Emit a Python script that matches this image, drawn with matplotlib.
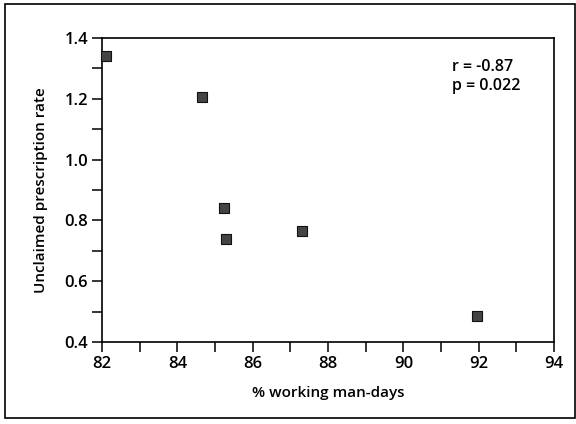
import matplotlib.pyplot as plt
from matplotlib.patches import Rectangle
from matplotlib.ticker import MultipleLocator

# data
working_days = [82.1, 84.65, 85.25, 85.3, 87.3, 91.95]
unclaimed_rate = [1.34, 1.205, 0.84, 0.74, 0.765, 0.487]
x_ticks = [82, 84, 86, 88, 90, 92, 94]
y_ticks = [0.4, 0.6, 0.8, 1.0, 1.2, 1.4]

plt.rcParams['font.family'] = ['Open Sans', 'DejaVu Sans']
plt.rcParams['font.weight'] = 'semibold'
plt.rcParams['axes.labelweight'] = 'semibold'

fig = plt.figure(figsize=(5.76, 4.24), dpi=100)
ax = fig.add_axes([102 / 576, 1 - 342 / 424, 452 / 576, 304 / 424])

ax.scatter(working_days, unclaimed_rate, marker='s', s=50, color='#444444',
           edgecolor='#111111', linewidth=0.8, zorder=3, clip_on=False)

ax.set_xlim(82, 94)
ax.set_ylim(0.4, 1.4)
ax.set_xticks(x_ticks)
ax.set_yticks(y_ticks)
ax.set_xticklabels([str(t) for t in x_ticks])
ax.set_yticklabels(['%.1f' % t for t in y_ticks])
ax.xaxis.set_minor_locator(MultipleLocator(1))
ax.yaxis.set_minor_locator(MultipleLocator(0.1))
ax.tick_params(which='major', direction='out', length=7, width=1.1, labelsize=12, pad=3)
ax.tick_params(which='minor', direction='out', length=7, width=1.1)
for s in ax.spines.values():
    s.set_linewidth(1.2)

ax.set_xlabel('% working man-days', fontsize=11, labelpad=10)
ax.set_ylabel('Unclaimed prescription rate', fontsize=11, labelpad=12)

ax.text(0.775, 0.93, 'r = -0.87\np = 0.022', transform=ax.transAxes,
        fontsize=11.5, ha='left', va='top', linespacing=1.2)

# outer frame of the figure
fig.patches.append(Rectangle((5 / 576, 1 - 418 / 424), 570 / 576, 414 / 424,
                             transform=fig.transFigure, fill=False,
                             edgecolor='black', linewidth=1.2))

fig.savefig('out.png', dpi=100)
